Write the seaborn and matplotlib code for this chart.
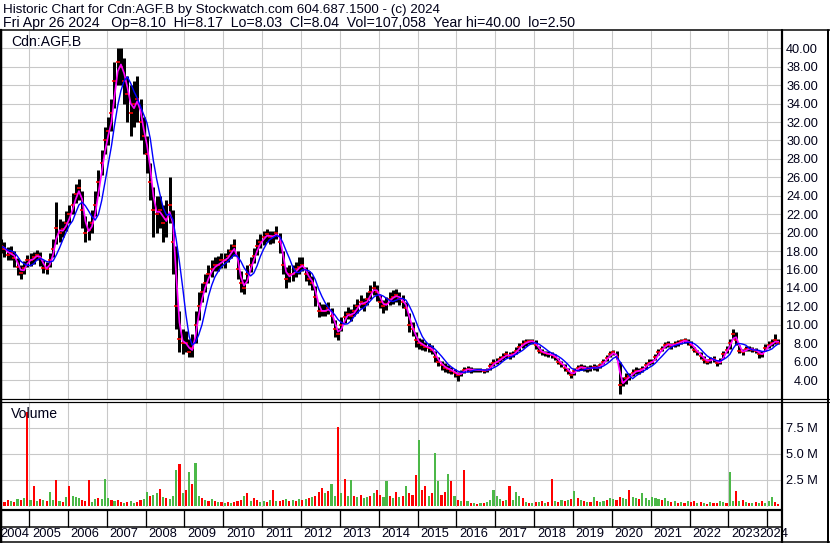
import numpy as np
import pandas as pd
import matplotlib
matplotlib.use("Agg")
import matplotlib.pyplot as plt
from matplotlib.lines import Line2D
import seaborn as sns

# monthly bars, Apr 2004 .. Apr 2024 (one row per year)
CLOSE = [
    18.5, 18.2, 17.6, 17.8, 17.2, 16.3, 15.6, 16.2, 17.0,
    17.0, 17.3, 17.6, 17.2, 16.2, 16.0, 17.0, 18.2, 20.5, 20.0, 20.4, 21.0,
    22.0, 23.0, 24.2, 24.8, 22.5, 20.0, 20.3, 21.0, 23.0, 25.5, 27.5, 30.0,
    31.0, 33.0, 36.5, 38.5, 38.0, 36.5, 35.0, 33.0, 34.0, 34.5, 32.0, 30.5,
    28.5, 25.5, 22.5, 22.0, 22.5, 21.0, 21.5, 23.0, 19.0, 12.0, 8.5, 8.0,
    8.0, 7.0, 7.5, 10.0, 12.0, 13.5, 14.5, 15.5, 16.0, 16.5, 16.5, 17.0,
    17.0, 17.5, 18.0, 18.5, 16.0, 14.5, 14.0, 15.5, 16.5, 17.5, 18.5, 19.0,
    19.5, 19.8, 19.5, 19.6, 20.0, 19.0, 16.5, 15.0, 15.5, 15.5, 16.0, 16.3,
    16.5, 15.5, 15.0, 14.5, 13.0, 11.5, 11.5, 11.5, 11.8, 11.0, 9.5, 9.0,
    10.0, 10.8, 11.2, 11.0, 11.5, 12.0, 12.5, 12.2, 12.8, 13.5, 14.0, 13.5,
    12.5, 12.0, 12.3, 12.8, 13.0, 13.2, 12.8, 12.5, 11.8, 10.0, 9.5, 8.3,
    8.0, 7.8, 7.6, 7.5, 7.3, 6.5, 6.0, 5.6, 5.3, 5.2, 5.0, 4.8,
    4.5, 4.8, 5.1, 5.2, 5.1, 5.1, 5.1, 5.1, 5.0, 5.1, 5.5, 5.9,
    6.0, 6.3, 6.5, 6.8, 6.6, 6.8, 7.2, 7.6, 7.9, 8.1, 8.2, 8.2,
    7.8, 7.2, 7.0, 6.9, 6.8, 6.7, 6.5, 6.0, 5.7, 5.3, 5.0, 4.5,
    5.0, 5.3, 5.4, 5.3, 5.2, 5.3, 5.4, 5.3, 5.6, 6.0, 6.4, 6.8,
    7.0, 6.5, 3.5, 3.8, 4.2, 4.4, 4.8, 5.0, 5.0, 5.2, 5.6, 5.9,
    6.0, 6.5, 7.0, 7.4, 7.8, 7.9, 7.7, 7.9, 8.0, 8.2, 8.3, 8.1,
    7.8, 7.3, 7.0, 6.6, 6.2, 6.0, 6.2, 6.3, 5.8, 6.0, 6.8, 7.3,
    8.0, 9.0, 8.3, 7.2, 7.0, 7.4, 7.4, 7.3, 7.2, 6.8, 6.8, 7.5,
    7.8, 8.0, 8.3, 8.04,
]
HIGH = [
    19.3, 19.0, 18.4, 18.5, 18.0, 17.2, 16.5, 16.9, 17.6,
    17.8, 17.9, 18.1, 17.9, 17.0, 16.8, 17.8, 19.3, 23.3, 21.5, 21.3, 22.3,
    23.0, 24.3, 25.3, 25.8, 24.5, 21.8, 21.3, 22.5, 24.5, 26.8, 29.0, 31.5,
    32.5, 34.5, 38.5, 40.0, 40.0, 39.0, 37.0, 36.0, 36.5, 37.0, 34.5, 32.5,
    30.5, 27.5, 25.0, 24.0, 24.0, 23.0, 23.5, 26.0, 22.5, 18.5, 11.5, 9.5,
    9.3, 8.5, 9.0, 11.5, 13.5, 14.5, 15.5, 16.5, 17.0, 17.3, 17.5, 17.8,
    17.8, 18.2, 18.8, 19.3, 18.0, 15.8, 15.0, 16.5, 17.3, 18.3, 19.3, 19.8,
    20.2, 20.4, 20.2, 20.2, 20.7, 20.0, 18.0, 16.3, 16.5, 16.5, 16.8, 17.3,
    17.3, 16.3, 15.8, 15.3, 14.2, 12.5, 12.2, 12.2, 12.5, 11.8, 10.5, 9.6,
    10.8, 11.5, 11.9, 11.7, 12.2, 12.8, 13.2, 12.9, 13.5, 14.3, 14.8, 14.3,
    13.2, 12.7, 13.0, 13.5, 13.8, 13.9, 13.5, 13.2, 12.5, 11.3, 10.3, 9.2,
    8.6, 8.4, 8.1, 8.0, 7.8, 7.2, 6.5, 6.1, 5.8, 5.6, 5.4, 5.2,
    4.9, 5.1, 5.4, 5.5, 5.4, 5.3, 5.3, 5.3, 5.2, 5.3, 5.8, 6.3,
    6.4, 6.6, 6.9, 7.2, 7.0, 7.2, 7.6, 8.0, 8.3, 8.5, 8.5, 8.5,
    8.3, 7.7, 7.4, 7.2, 7.1, 7.0, 6.8, 6.4, 6.1, 5.7, 5.3, 4.9,
    5.3, 5.6, 5.7, 5.6, 5.5, 5.6, 5.7, 5.6, 5.9, 6.3, 6.7, 7.2,
    7.3, 7.1, 6.0, 4.3, 4.8, 4.8, 5.2, 5.4, 5.3, 5.5, 6.0, 6.3,
    6.3, 6.8, 7.4, 7.7, 8.1, 8.2, 8.0, 8.2, 8.3, 8.5, 8.6, 8.4,
    8.2, 7.6, 7.3, 7.0, 6.6, 6.3, 6.5, 6.6, 6.2, 6.4, 7.2, 7.7,
    8.5, 9.5, 9.2, 7.8, 7.4, 7.7, 7.7, 7.6, 7.5, 7.2, 7.2, 7.9,
    8.2, 8.4, 9.0, 8.4,
]
LOW = [
    17.8, 17.4, 17.0, 17.0, 16.3, 15.4, 15.0, 15.5, 16.3,
    16.4, 16.6, 17.0, 16.4, 15.6, 15.5, 16.3, 17.4, 18.8, 19.0, 19.5, 20.2,
    21.0, 22.0, 23.2, 23.5, 20.5, 19.0, 19.2, 20.0, 21.8, 24.0, 26.3, 28.5,
    29.5, 31.0, 33.5, 36.0, 36.0, 34.0, 32.0, 30.5, 31.5, 32.0, 30.0, 28.5,
    26.5, 23.5, 19.5, 20.0, 20.5, 19.0, 19.5, 21.0, 15.5, 9.5, 7.0, 6.8,
    7.0, 6.5, 6.5, 8.0, 10.5, 12.5, 13.5, 14.5, 15.2, 15.8, 15.8, 16.2,
    16.2, 16.8, 17.2, 17.5, 15.0, 13.5, 13.3, 14.5, 15.7, 16.7, 17.6, 18.3,
    18.7, 19.0, 18.8, 18.9, 19.3, 17.8, 15.5, 14.0, 14.6, 14.7, 15.2, 15.5,
    15.8, 14.8, 14.3, 13.8, 12.0, 10.8, 10.9, 10.9, 11.2, 10.2, 8.7, 8.3,
    9.3, 10.2, 10.6, 10.4, 10.9, 11.3, 11.8, 11.5, 12.1, 12.8, 13.2, 12.6,
    11.8, 11.3, 11.6, 12.1, 12.3, 12.5, 12.1, 11.8, 11.0, 9.2, 8.8, 7.6,
    7.4, 7.3, 7.1, 7.0, 6.8, 6.0, 5.5, 5.1, 4.9, 4.8, 4.6, 4.3,
    3.9, 4.4, 4.8, 4.9, 4.8, 4.9, 4.9, 4.9, 4.8, 4.9, 5.1, 5.5,
    5.7, 6.0, 6.2, 6.4, 6.3, 6.5, 6.8, 7.2, 7.5, 7.7, 7.9, 7.9,
    7.4, 6.9, 6.7, 6.6, 6.5, 6.4, 6.2, 5.7, 5.4, 5.0, 4.6, 4.2,
    4.5, 5.0, 5.1, 5.0, 4.9, 5.0, 5.1, 5.0, 5.3, 5.7, 6.1, 6.5,
    6.7, 6.3, 2.5, 3.3, 3.6, 4.0, 4.4, 4.7, 4.7, 4.9, 5.2, 5.6,
    5.7, 6.2, 6.7, 7.1, 7.5, 7.6, 7.4, 7.6, 7.7, 7.9, 8.0, 7.8,
    7.5, 7.0, 6.7, 6.3, 5.9, 5.7, 5.9, 6.0, 5.5, 5.7, 6.4, 6.9,
    7.4, 8.4, 7.8, 6.9, 6.7, 7.1, 7.1, 7.0, 6.9, 6.4, 6.5, 7.1,
    7.5, 7.7, 7.9, 7.9,
]
# peak daily volume in each month, millions of shares
VOLUME = [
    0.5, 0.4, 0.6, 0.5, 0.4, 0.7, 0.6, 0.8, 9.0,
    0.6, 1.9, 0.5, 0.7, 0.6, 0.5, 1.3, 0.6, 2.5, 0.5, 0.4, 0.9,
    1.9, 1.0, 0.9, 0.8, 0.6, 0.5, 2.5, 0.4, 0.7, 0.8, 0.7, 2.6,
    0.8, 0.6, 0.5, 0.6, 0.4, 0.3, 0.4, 0.5, 0.3, 0.4, 0.6, 0.7,
    1.3, 1.0, 1.1, 1.2, 1.6, 0.9, 0.8, 0.7, 1.0, 3.5, 4.0, 1.2,
    1.5, 3.3, 2.1, 4.1, 1.0, 0.8, 0.6, 0.5, 0.7, 0.5, 0.4, 0.4,
    0.3, 0.4, 0.3, 0.4, 0.5, 0.6, 1.0, 1.2, 0.5, 0.8, 0.6, 0.4,
    0.5, 0.4, 0.6, 1.5, 0.5, 0.5, 0.6, 0.7, 0.5, 0.6, 0.5, 0.7,
    0.6, 0.7, 0.8, 0.9, 1.0, 1.3, 1.7, 1.2, 1.4, 2.1, 1.0, 7.6,
    1.2, 2.6, 1.0, 2.5, 1.0, 0.9, 1.1, 0.8, 0.9, 1.0, 1.2, 1.5,
    1.1, 0.9, 2.4, 1.0, 0.8, 1.3, 0.9, 1.0, 1.9, 1.2, 1.1, 3.0,
    6.3, 1.5, 1.9, 1.0, 1.2, 5.1, 2.4, 1.1, 1.3, 3.1, 2.4, 1.0,
    0.6, 0.5, 3.5, 0.5, 0.3, 0.3, 0.2, 0.3, 0.3, 0.4, 0.6, 1.5,
    1.0, 0.7, 0.5, 0.6, 1.9, 0.6, 1.3, 1.0, 0.8, 0.4, 0.3, 0.3,
    0.4, 0.4, 0.5, 0.3, 0.4, 2.6, 0.5, 0.4, 0.6, 0.5, 0.6, 0.7,
    1.4, 0.8, 0.6, 0.5, 0.4, 0.4, 0.9, 0.5, 0.4, 0.5, 0.6, 0.8,
    0.7, 0.6, 0.9, 0.8, 0.7, 1.5, 0.9, 0.8, 0.7, 1.2, 0.8, 0.6,
    0.9, 0.8, 0.7, 0.6, 0.8, 0.5, 0.4, 0.5, 0.3, 0.4, 0.3, 0.5,
    0.4, 0.5, 0.3, 0.4, 0.3, 0.2, 0.4, 0.3, 0.3, 0.5, 0.4, 0.3,
    3.3, 0.5, 1.4, 0.5, 0.6, 0.4, 0.3, 0.3, 0.4, 0.3, 0.5, 0.3,
    0.5, 0.9, 0.4, 0.2,
]
# G = up day, R = down day
VOL_DIR = [
    "GRRGRGRGR",
    "GRGRGRGGRGRG", "RGGGRRRGGRGG", "GRGRRGRGGRRG", "GRGGRGRGGGRG",
    "RGRGGRGRGRGR", "GRGRRRGRGRRG", "GRGRGRRGRGRG", "RGRGRRRGRGGR",
    "GRGGRGRGGRGR", "RGGRGRGRGRRR", "GRRGRGGRRGRG", "RGRGRGRGRGGG",
    "GGRGRGGGRGRG", "RGRGRRGRGRGR", "GRGRGRGRGGRG", "GRRGGRGGRGGG",
    "GGGRGGRGRGRG", "RRGRGRGRRGGR", "GGRGRGRGRGRG",
    "GGRR",
]
YEARS = list(range(2004, 2025))
PRICE_TICKS = list(range(4, 41, 2))
VOL_TICKS = [2.5, 5.0, 7.5]

HEADER_1 = "Historic Chart for Cdn:AGF.B by Stockwatch.com 604.687.1500 - (c) 2024"
HEADER_2 = "Fri Apr 26 2024   Op=8.10  Hi=8.17  Lo=8.03  Cl=8.04  Vol=107,058  Year hi=40.00  lo=2.50"

sns.set_style("white")
plt.rcParams["font.family"] = ["Liberation Sans", "DejaVu Sans"]
plt.rcParams["font.size"] = 9

W, H = 830, 543
PX = 0.72  # points per pixel at 100 dpi
GRID = "#c8c8c8"
INK = "#000018"


def fx(px):
    return px / W


def fy(py):
    return 1 - py / H


dates = pd.date_range("2004-04-01", "2024-04-01", freq="MS") + pd.Timedelta(days=14)
df = pd.DataFrame({"date": dates, "close": CLOSE, "high": HIGH, "low": LOW,
                   "vol": VOLUME, "dir": list("".join(VOL_DIR))})
df["ma_fast"] = df["close"].rolling(2, min_periods=1).mean()
df["ma_slow"] = df["close"].rolling(5, min_periods=1).mean()

x_start, x_end = pd.Timestamp("2004-04-22"), pd.Timestamp("2024-05-10")
year_lines = [pd.Timestamp(f"{y}-01-01") for y in YEARS[1:]]

fig = plt.figure(figsize=(W / 100, H / 100), dpi=100)

# price panel
ax_p = fig.add_axes([fx(2), fy(399), fx(781) - fx(2), fy(31) - fy(399)])
ax_p.vlines(df["date"], df["low"], df["high"], color="black", lw=3.0 * PX)
ax_p.plot(df["date"], df["close"], ls="none", marker="_", ms=3.2 * PX,
          mew=1.6 * PX, color="red")
sns.lineplot(data=df, x="date", y="ma_fast", ax=ax_p, color="#ff00ff", lw=1.7 * PX)
sns.lineplot(data=df, x="date", y="ma_slow", ax=ax_p, color="#0000ff", lw=1.4 * PX)
ax_p.set_ylim(1.94, 41.88)
ax_p.set_yticks(PRICE_TICKS)
ax_p.set_yticklabels([f"{v:.2f}" for v in PRICE_TICKS])
ax_p.text(9 / 779, 0.969, "Cdn:AGF.B", transform=ax_p.transAxes, va="center",
          ha="left", fontsize=10.1, color=INK)

# volume panel
ax_v = fig.add_axes([fx(2), fy(507), fx(781) - fx(2), fy(402) - fy(507)])
vol_colors = df["dir"].map({"G": "#4cb848", "R": "#ff0000"})
ax_v.bar(df["date"], df["vol"], width=20, color=vol_colors, linewidth=0)
ax_v.set_ylim(-0.1, 10.0)
ax_v.set_yticks(VOL_TICKS)
ax_v.set_yticklabels([f"{v:.1f} M" for v in VOL_TICKS])
ax_v.text(9 / 779, 0.89, "Volume", transform=ax_v.transAxes, va="center",
          ha="left", fontsize=10.1, color=INK)

for ax in (ax_p, ax_v):
    ax.set_xlim(x_start, x_end)
    ax.set_xticks(year_lines)
    ax.set_xticklabels([])
    ax.set_xlabel("")
    ax.set_ylabel("")
    ax.grid(True, color=GRID, lw=1.1 * PX)
    ax.set_axisbelow(True)
    ax.yaxis.tick_right()
    ax.tick_params(axis="both", length=0)
    ax.tick_params(axis="y", pad=37 * PX, labelsize=9.2, labelcolor=INK)
    for lbl in ax.get_yticklabels():
        lbl.set_ha("right")
    for s in ax.spines.values():
        s.set_visible(False)

# date strip
ax_d = fig.add_axes([fx(2), fy(541), fx(781) - fx(2), fy(510) - fy(541)])
ax_d.set_xlim(x_start, x_end)
ax_d.set_ylim(31, 0)
ax_d.axis("off")
ax_d.vlines(year_lines, 0, 17, color="black", lw=1.3 * PX)
for y in YEARS:
    if y == YEARS[0]:
        ax_d.text(pd.Timestamp(f"{y + 1}-01-01"), 24, str(y), ha="right",
                  va="center", fontsize=9.3, color=INK)
    elif y == YEARS[-1]:
        ax_d.text(pd.Timestamp(f"{y - 1}-10-20"), 24, str(y), ha="left",
                  va="center", fontsize=9.3, color=INK, clip_on=False)
    else:
        ax_d.text(pd.Timestamp(f"{y}-01-28"), 24, str(y), ha="left",
                  va="center", fontsize=9.3, color=INK)


def hline(py, x0, x1, w):
    fig.add_artist(Line2D([fx(x0), fx(x1)], [fy(py), fy(py)], color="black", lw=w * PX))


def vline(px, y0, y1, w):
    fig.add_artist(Line2D([fx(px), fx(px)], [fy(y0), fy(y1)], color="black", lw=w * PX))


hline(30, 0, 830, 1.5)
hline(399, 0, 829, 1.2)
hline(402, 0, 829, 1.2)
hline(509.5, 0, 782, 2.2)
hline(526.7, 0, 782, 1.5)
hline(541.5, 0, 830, 1.5)
vline(1, 30, 543, 2.5)
vline(781.8, 30, 543, 2.2)
vline(828.3, 30, 543, 2.0)

fig.text(fx(3), fy(10), HEADER_1, ha="left", va="center", fontsize=9.6, color=INK)
fig.text(fx(3), fy(22.5), HEADER_2, ha="left", va="center", fontsize=10.2, color=INK)

fig.savefig("out.png", dpi=100)
